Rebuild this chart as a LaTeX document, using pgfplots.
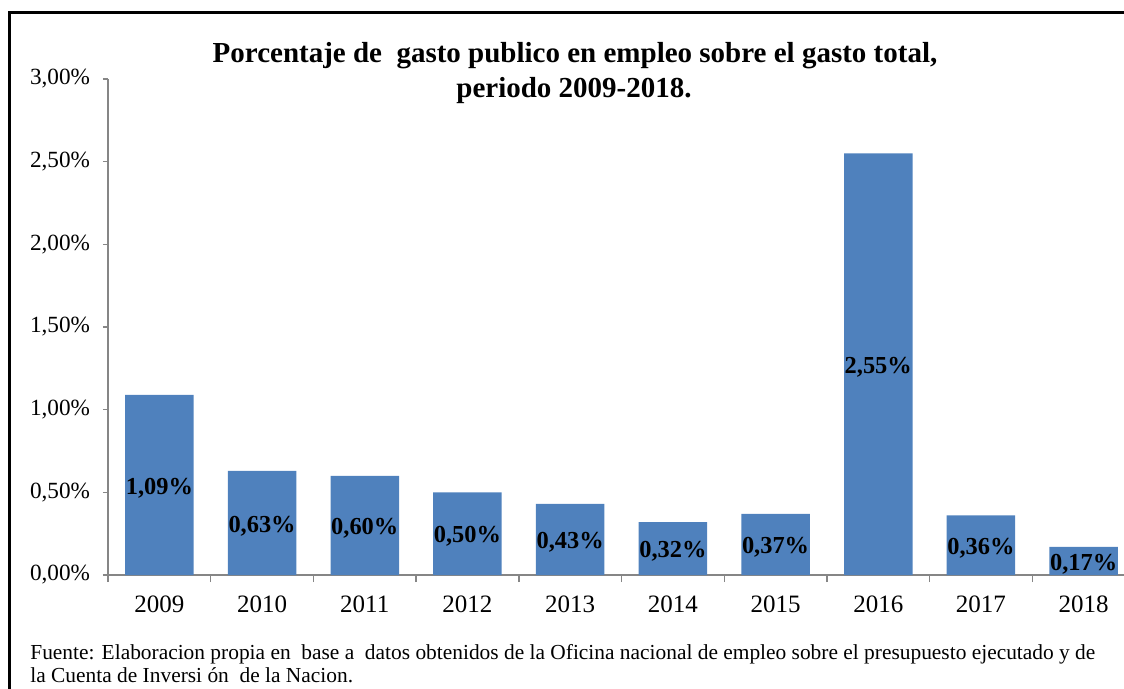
\documentclass[border=0pt]{standalone}
\usepackage{pgfplots}
\pgfplotsset{compat=1.18}
\usepackage{fontspec}
\setmainfont{Liberation Serif}
\definecolor{barblue}{HTML}{4F81BD}
\definecolor{axgray}{HTML}{868686}
\begin{document}
\begin{tikzpicture}
\useasboundingbox (0,0) rectangle (562pt,-344.5pt);
\clip (0,0) rectangle (562pt,-344.5pt);
\begin{axis}[
  at={(54pt,-287.5pt)}, anchor=south west,
  scale only axis, width=513.5pt, height=248pt,
  xmin=-0.5, xmax=9.5, ymin=0, ymax=3,
  axis lines*=left,
  axis line style={axgray, line width=0.6pt},
  ytick={0,0.5,1,1.5,2,2.5,3},
  yticklabels={{0,00\%},{0,50\%},{1,00\%},{1,50\%},{2,00\%},{2,50\%},{3,00\%}},
  xtick={0,...,9},
  xticklabels={2009,2010,2011,2012,2013,2014,2015,2016,2017,2018},
  minor xtick={-0.5,0.5,1.5,2.5,3.5,4.5,5.5,6.5,7.5,8.5,9.5},
  tick align=outside,
  major x tick style={draw=none},
  tick style={axgray, line width=0.7pt},
  major tick length=2.5pt, minor tick length=3.5pt,
  ticklabel style={font=\fontsize{12.5}{15}\selectfont, text=black},
  yticklabel style={xshift=-3pt, font=\fontsize{11.6}{14}\selectfont},
  xticklabel style={yshift=-4.5pt},
]
\addplot[ybar, bar width=34.25pt, fill=barblue, draw=none,
  nodes near coords, point meta=explicit symbolic,
  visualization depends on=y \as \rawy,
  every node near coord/.append style={anchor=center, shift={(axis direction cs:0,-\rawy/2)}, yshift=-1.5pt, font=\fontsize{12.2}{14}\selectfont\bfseries, text=black}]
coordinates {
  (0,1.09) [1,09\%]
  (1,0.63) [0,63\%]
  (2,0.60) [0,60\%]
  (3,0.50) [0,50\%]
  (4,0.43) [0,43\%]
  (5,0.32) [0,32\%]
  (6,0.37) [0,37\%]
  (7,2.55) [2,55\%]
  (8,0.36) [0,36\%]
  (9,0.17) [0,17\%]
};
\end{axis}
\draw[line width=1.5pt] (4.75pt,-400pt) -- (4.75pt,-6.5pt) -- (600pt,-6.5pt);
\node[anchor=base, font=\fontsize{14.5}{17}\selectfont\bfseries] at (287.5pt,-31.5pt) {Porcentaje de\ \ gasto publico en empleo sobre el gasto total,};
\node[anchor=base, font=\fontsize{14.5}{17}\selectfont\bfseries] at (287pt,-49pt) {periodo 2009-2018.};
\node[anchor=base west, inner sep=0pt, font=\fontsize{10.7}{13}\selectfont] at (15pt,-329.5pt) {Fuente: Elaboracion propia en\ \ base a\ \ datos obtenidos de la Oficina nacional de empleo sobre el presupuesto ejecutado y de};
\node[anchor=base west, inner sep=0pt, font=\fontsize{10.7}{13}\selectfont] at (15pt,-341pt) {la Cuenta de Inversi ón\ \ de la Nacion.};
\end{tikzpicture}
\end{document}
